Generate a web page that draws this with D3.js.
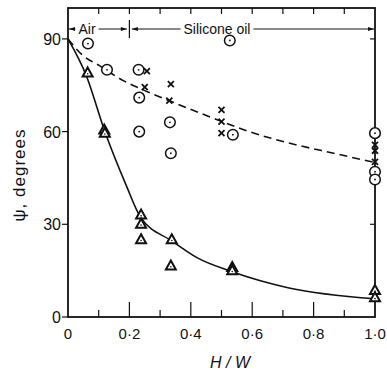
<!DOCTYPE html>
<html>
<head>
<meta charset="utf-8">
<script src="https://cdn.jsdelivr.net/npm/d3@7"></script>
<style>
body { margin: 0; background: #fff; }
svg { display: block; }
text { font-family: "Liberation Sans", Arial, sans-serif; fill: #111; }
</style>
</head>
<body>
<div id="chart"></div>
<script>
// data
var circles = [[0.065, 88.5], [0.127, 80], [0.23, 80], [0.232, 71], [0.232, 60], [0.332, 63], [0.335, 53],
    [0.527, 89.5], [0.537, 59], [1.0, 59.5], [1.0, 47], [1.0, 44.5]];
var crosses = [[0.257, 79.6], [0.25, 74.4], [0.335, 75.4], [0.33, 70], [0.5, 67], [0.5, 63.2], [0.5, 59.5],
    [1.0, 55.7], [1.0, 53.8], [1.0, 50.2]];
var triangles = [[0.064, 79], [0.118, 60.5], [0.12, 59.5], [0.238, 33], [0.238, 30], [0.238, 25], [0.338, 25],
    [0.335, 16.5], [0.535, 16], [0.535, 15], [1.0, 8.6], [1.0, 6.2]];
var solidCurve = [[0, 90], [0.06, 78], [0.12, 60], [0.19, 42.5], [0.235, 32.5], [0.34, 24.5], [0.42, 19.2],
    [0.53, 14.8], [0.72, 9.4], [1.0, 5.9]];
var dashedCurve = [[0, 90], [0.05, 84.5], [0.1, 81.5], [0.18, 76.5], [0.245, 73.5], [0.33, 70], [0.43, 66],
    [0.5, 63.3], [0.59, 60], [0.72, 56.3], [0.865, 53], [1.0, 50]];
var xTicks = [0, 0.1, 0.2, 0.3, 0.4, 0.5, 0.6, 0.7, 0.8, 0.9, 1.0];
var xTickLabels = ["0", "0·2", "0·4", "0·6", "0·8", "1·0"];
var yTicks = [0, 30, 60, 90];
var regions = [{label: "Air", from: 0, to: 0.2}, {label: "Silicone oil", from: 0.2, to: 1.0}];

var width = 387, height = 375;
var svg = d3.select("#chart").append("svg").attr("width", width).attr("height", height);

var x = d3.scaleLinear().domain([0, 1]).range([68, 375]);
var y = d3.scaleLinear().domain([0, 100]).range([317, 8]);

// frame
svg.append("rect").attr("x", x(0)).attr("y", y(100)).attr("width", x(1) - x(0)).attr("height", y(0) - y(100))
    .attr("fill", "none").attr("stroke", "#111").attr("stroke-width", 1.8);

// bottom ticks (inside)
svg.append("g").selectAll("line").data(xTicks.slice(1, -1)).enter().append("line")
    .attr("x1", function(d){ return x(d); }).attr("x2", function(d){ return x(d); })
    .attr("y1", y(0)).attr("y2", function(d, i){ return i % 2 == 1 ? y(0) - 15 : y(0) - 7; })
    .attr("stroke", "#111").attr("stroke-width", 1.2);
// top ticks (inside)
svg.append("g").selectAll("line").data(xTicks.slice(1, -1)).enter().append("line")
    .attr("x1", function(d){ return x(d); }).attr("x2", function(d){ return x(d); })
    .attr("y1", y(100)).attr("y2", y(100) + 6)
    .attr("stroke", "#111").attr("stroke-width", 1.2);
// x labels
svg.append("g").selectAll("text").data(xTickLabels).enter().append("text")
    .attr("x", function(d, i){ return x(i * 0.2); }).attr("y", 339)
    .attr("text-anchor", "middle").attr("font-size", 15).text(function(d){ return d; });

// left ticks (outside) and labels
svg.append("g").selectAll("line").data(yTicks).enter().append("line")
    .attr("x1", x(0) - 6).attr("x2", x(0)).attr("y1", function(d){ return y(d); }).attr("y2", function(d){ return y(d); })
    .attr("stroke", "#111").attr("stroke-width", 1.2);
svg.append("g").selectAll("text").data(yTicks).enter().append("text")
    .attr("x", 61).attr("y", function(d){ return y(d) + 6; })
    .attr("text-anchor", "end").attr("font-size", 16).text(function(d){ return d; });
// right ticks (inside)
svg.append("g").selectAll("line").data(yTicks.slice(1)).enter().append("line")
    .attr("x1", x(1) - 5).attr("x2", x(1)).attr("y1", function(d){ return y(d); }).attr("y2", function(d){ return y(d); })
    .attr("stroke", "#111").attr("stroke-width", 1.2);

// axis titles
svg.append("text").attr("transform", "translate(25,175) rotate(-90)").attr("text-anchor", "middle")
    .attr("font-size", 17).attr("letter-spacing", 1).text("ψ,  degrees");
svg.append("text").attr("x", 230).attr("y", 368).attr("text-anchor", "middle").attr("font-size", 16)
    .attr("font-style", "italic").text("H / W");

// region annotation with arrows
var defs = svg.append("defs");
defs.append("marker").attr("id", "arr").attr("viewBox", "0 0 10 10").attr("refX", 10).attr("refY", 5)
    .attr("markerWidth", 7).attr("markerHeight", 6).attr("orient", "auto-start-reverse")
    .append("path").attr("d", "M0,1.5 L10,5 L0,8.5 Z").attr("fill", "#111");
var ay = 29;
svg.append("line").attr("x1", x(0.2)).attr("x2", x(0.2)).attr("y1", 20).attr("y2", 38)
    .attr("stroke", "#111").attr("stroke-width", 1.2);
regions.forEach(function(r, i){
    var x0 = x(r.from) + (i == 0 ? 1 : 2.5), x1 = x(r.to) - (i == 0 ? 2.5 : 1);
    var t = svg.append("text").attr("x", i == 0 ? 87 : 217).attr("y", ay + 5).attr("text-anchor", "middle")
        .attr("font-size", 14).text(r.label);
    var w = t.node().getComputedTextLength();
    var cx = +t.attr("x");
    svg.append("line").attr("x1", cx - w / 2 - 3).attr("x2", x0).attr("y1", ay).attr("y2", ay)
        .attr("stroke", "#111").attr("stroke-width", 1).attr("marker-end", "url(#arr)");
    svg.append("line").attr("x1", cx + w / 2 + 3).attr("x2", x1).attr("y1", ay).attr("y2", ay)
        .attr("stroke", "#111").attr("stroke-width", 1).attr("marker-end", "url(#arr)");
});

// curves
var line = d3.line().x(function(d){ return x(d[0]); }).y(function(d){ return y(d[1]); }).curve(d3.curveMonotoneX);
svg.append("path").datum(solidCurve).attr("d", line).attr("fill", "none").attr("stroke", "#111").attr("stroke-width", 1.6);
svg.append("path").datum(dashedCurve).attr("d", line).attr("fill", "none").attr("stroke", "#111")
    .attr("stroke-width", 1.6).attr("stroke-dasharray", "8,5");

// markers
var gc = svg.append("g").selectAll("g").data(circles).enter().append("g")
    .attr("transform", function(d){ return "translate(" + x(d[0]) + "," + y(d[1]) + ")"; });
gc.append("circle").attr("r", 5.3).attr("fill", "#fff").attr("stroke", "#111").attr("stroke-width", 1.5);
gc.append("circle").attr("r", 0.9).attr("fill", "#111");

var gt = svg.append("g").selectAll("g").data(triangles).enter().append("g")
    .attr("transform", function(d){ return "translate(" + x(d[0]) + "," + y(d[1]) + ")"; });
gt.append("path").attr("d", "M0,-5.5 L5,3.5 L-5,3.5 Z").attr("fill", "#fff").attr("stroke", "#111").attr("stroke-width", 2);
gt.append("circle").attr("cy", 0.8).attr("r", 0.8).attr("fill", "#111");

svg.append("g").selectAll("path").data(crosses).enter().append("path")
    .attr("transform", function(d){ return "translate(" + x(d[0]) + "," + y(d[1]) + ")"; })
    .attr("d", "M-3,-3 L3,3 M3,-3 L-3,3").attr("stroke", "#111").attr("stroke-width", 1.8);
</script>
</body>
</html>
